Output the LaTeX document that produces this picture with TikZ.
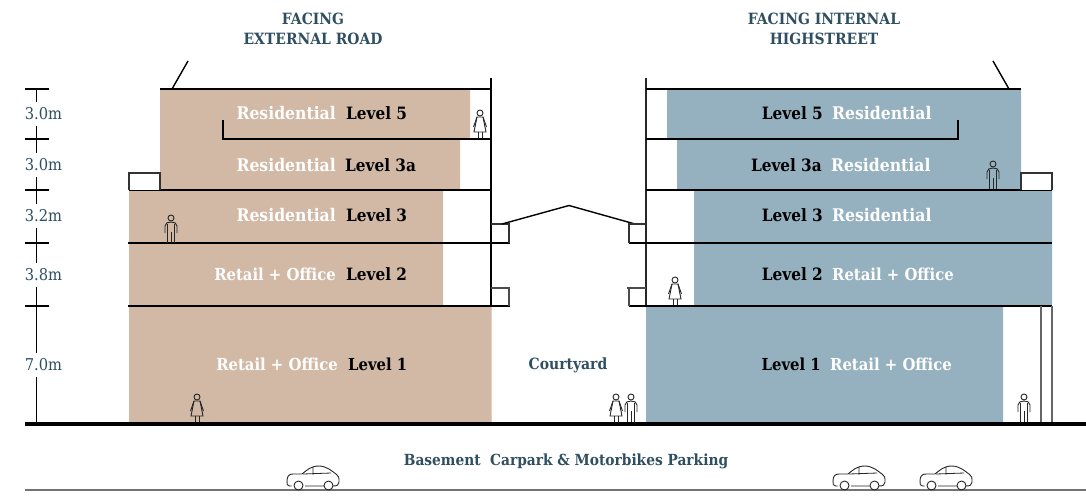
\documentclass[tikz,border=0pt]{standalone}
\usepackage{fontspec}
\setmainfont{DejaVu Serif Condensed}
\begin{document}
\begin{tikzpicture}[x=1pt,y=-1pt,line join=miter,
  lbl/.style={font=\bfseries\fontsize{17}{19}\selectfont,inner sep=0pt,anchor=base},
  wt/.style={lbl,text=white,font=\bfseries\fontsize{17.4}{19}\selectfont},
  wr/.style={lbl,text=white,font=\bfseries\fontsize{16.5}{19}\selectfont},
  kt/.style={lbl,text=black},
  ko/.style={lbl,text=black,font=\bfseries\fontsize{16.5}{19}\selectfont},
  head/.style={font=\bfseries\fontsize{15.5}{20}\selectfont,text=dk,align=center,inner sep=0pt},
  dim/.style={font=\fontsize{16.3}{17}\selectfont,text=dk,fill=white,inner sep=0pt,minimum width=38pt,minimum height=24pt},
  ln/.style={draw=black,line width=1.4pt},
  th/.style={draw=black,line width=2pt},
  gr/.style={draw=black!60,line width=1.4pt},
  fig/.style={draw=black!85,line width=0.9pt,fill=none},
  man/.pic={
    \draw[fig] (0,-25) circle (3);
    \draw[fig] (-6,-10) -- (-6,-17) .. controls (-6,-20) and (-3,-21) .. (0,-21) .. controls (3,-21) and (6,-20) .. (6,-17) -- (6,-10);
    \draw[fig] (-3.5,-12) -- (-3.5,0) (3.5,-12) -- (3.5,0) (0,-11) -- (0,0);
    \draw[fig] (-3.5,-19) -- (-3.5,-12) (3.5,-19) -- (3.5,-12);
  },
  wom/.pic={
    \draw[fig] (0,-25) circle (3);
    \draw[fig] (-3,-21) -- (3,-21) -- (6,-6) -- (-6,-6) -- cycle;
    \draw[fig] (-3,-21) -- (-6.5,-11) (3,-21) -- (6.5,-11);
    \draw[fig] (-2,-6) -- (-2,0) (2,-6) -- (2,0);
  },
  car/.pic={
    \draw[draw=black!85,line width=0.9pt]
      (-21.5,-4) -- (-23.5,-4) .. controls (-26,-4) and (-26,-6) .. (-26,-9)
      .. controls (-26,-14) and (-24,-16) .. (-20,-16) -- (-11,-16)
      .. controls (-6,-20) and (-2,-24) .. (6,-24) .. controls (14,-24) and (20,-18) .. (23,-16)
      .. controls (26,-15) and (26,-12) .. (26,-8) .. controls (26,-5) and (24,-4) .. (20,-4)
      (-8,-4) -- (11,-4);
    \draw[draw=black!85,line width=0.9pt] (-14.5,-4.5) circle (4.5) (15.5,-4.5) circle (4.5);
    \draw[draw=black!85,line width=0.8pt] (-10,-16) -- (18,-17) (0,-23) -- (0,-15.5);
  }
]
\definecolor{tan}{HTML}{D1B9A6}
\definecolor{blu}{HTML}{95B1BF}
\definecolor{dk}{HTML}{2F4F60}
\useasboundingbox (0,0) rectangle (1086,499);
\fill[white] (0,0) rectangle (1086,499);
% fills
\fill[tan] (160,89) rectangle (470,139) (160,139) rectangle (460,190) (129,190) rectangle (443,306) (129,306) rectangle (491.5,424);
\fill[blu] (667,89) rectangle (1021,139) (677,139) rectangle (1021,190) (694,190) rectangle (1052,306) (646,306) rectangle (1003,424);
% scale
\draw[draw=black,line width=1.2pt] (36.5,89) -- (36.5,424);
\foreach \y in {89,139,190,243,306} \draw[draw=black,line width=2pt] (25,\y) -- (49,\y);
\node[dim] (d1) at (43.5,113.5) {3.0m};
\node[dim] (d2) at (43.5,165) {3.0m};
\node[dim] (d3) at (43.5,215.5) {3.2m};
\node[dim] (d4) at (43.5,274.5) {3.8m};
\node[dim] (d5) at (43.5,364.5) {7.0m};
% left building
\draw[line width=1.1pt] (491,78) -- (491,306);
\draw[ln] (160,89) -- (491,89);
\draw[line width=2.5pt] (160,89) -- (172,89);
\draw[ln] (172,89) -- (188,61);
\draw[ln] (223,120) -- (223,139) -- (491,139);
\draw[ln] (129,190) -- (491,190);
\draw[ln] (128,243) -- (510,243);
\draw[th] (128,306) -- (510,306);
\draw[draw=black!80,line width=1.1pt,fill=white] (129,190) -- (129,173) -- (160,173) -- (160,190);
\draw[draw=black!80,line width=1.1pt] (491,224) -- (510,224) (509,224) -- (509,243);
\draw[draw=black!70,line width=1.1pt] (491,288) -- (510,288) (509,288) -- (509,306);
% courtyard roof
\draw[ln] (502,224) -- (569,205.5) -- (635,224);
% right building
\draw[draw=black!85,line width=1.1pt] (646,78) -- (646,306);
\draw[ln] (646,89) -- (1021,89);
\draw[line width=2.5pt] (1009,89) -- (1021,89);
\draw[ln] (1009,89) -- (993,61);
\draw[ln] (958,120) -- (958,139) -- (646,139);
\draw[ln] (646,190) -- (1052,190);
\draw[ln] (629,243) -- (1052,243);
\draw[th] (629,306) -- (1052,306);
\draw[draw=black!80,line width=1.1pt,fill=white] (1021,190) -- (1021,173) -- (1052,173) -- (1052,190);
\draw[draw=black!80,line width=1.1pt] (646,224) -- (628,224) (629,224) -- (629,243);
\draw[draw=black!70,line width=1.1pt] (646,288) -- (627,288) (629,288) -- (629,306);
\draw[gr] (1041,306) -- (1041,424) (1052,306) -- (1052,424);
% ground
\draw[line width=3.2pt] (25,424) -- (1086,424);
\draw[draw=black!55,line width=1.2pt] (25,490) -- (1086,490);
% people
\pic at (480,138) {wom};
\pic at (171,243) {man};
\pic at (197,422) {wom};
\pic at (675,305) {wom};
\pic at (616,422) {wom};
\pic at (631,422) {man};
\pic at (993,189) {man};
\pic at (1024,422) {man};
% cars
\pic at (313,490) {car};
\pic at (859,490) {car};
\pic at (946,490) {car};
% headings
\node[head] (h1) at (313,28.5) {FACING\\EXTERNAL ROAD};
\node[head] (h2) at (824,28.5) {FACING INTERNAL\\HIGHSTREET};
\node[head,anchor=base] (c) at (568,369) {Courtyard};
\node[head,anchor=base,font=\bfseries\fontsize{15.3}{20}\selectfont] (b) at (566,465) {Basement\ \ Carpark \& Motorbikes Parking};
% left labels
\node[wt,anchor=base east] (a1) at (336,119) {Residential};
\node[kt,anchor=base west] (a2) at (346,119) {Level 5};
\node[wt,anchor=base east] (a3) at (336,171) {Residential};
\node[kt,anchor=base west] (a4) at (345,171) {Level 3a};
\node[wt,anchor=base east] (a5) at (336,221) {Residential};
\node[kt,anchor=base west] (a6) at (346,221) {Level 3};
\node[wr,anchor=base east] (a7) at (336,280) {Retail + Office};
\node[kt,anchor=base west] (a8) at (346,280) {Level 2};
\node[wr,anchor=base east] (a9) at (338,370) {Retail + Office};
\node[ko,anchor=base west] (a10) at (348,370) {Level 1};
% right labels
\node[kt,anchor=base east] (r1) at (823,119) {Level 5};
\node[wt,anchor=base west] (r2) at (832,119) {Residential};
\node[kt,anchor=base east] (r3) at (822,171) {Level 3a};
\node[wt,anchor=base west] (r4) at (831,171) {Residential};
\node[kt,anchor=base east] (r5) at (823,221) {Level 3};
\node[wt,anchor=base west] (r6) at (832,221) {Residential};
\node[kt,anchor=base east] (r7) at (823,280) {Level 2};
\node[wr,anchor=base west] (r8) at (832,280) {Retail + Office};
\node[ko,anchor=base east] (r9) at (821,370) {Level 1};
\node[wr,anchor=base west] (r10) at (830,370) {Retail + Office};
\end{tikzpicture}
\end{document}
